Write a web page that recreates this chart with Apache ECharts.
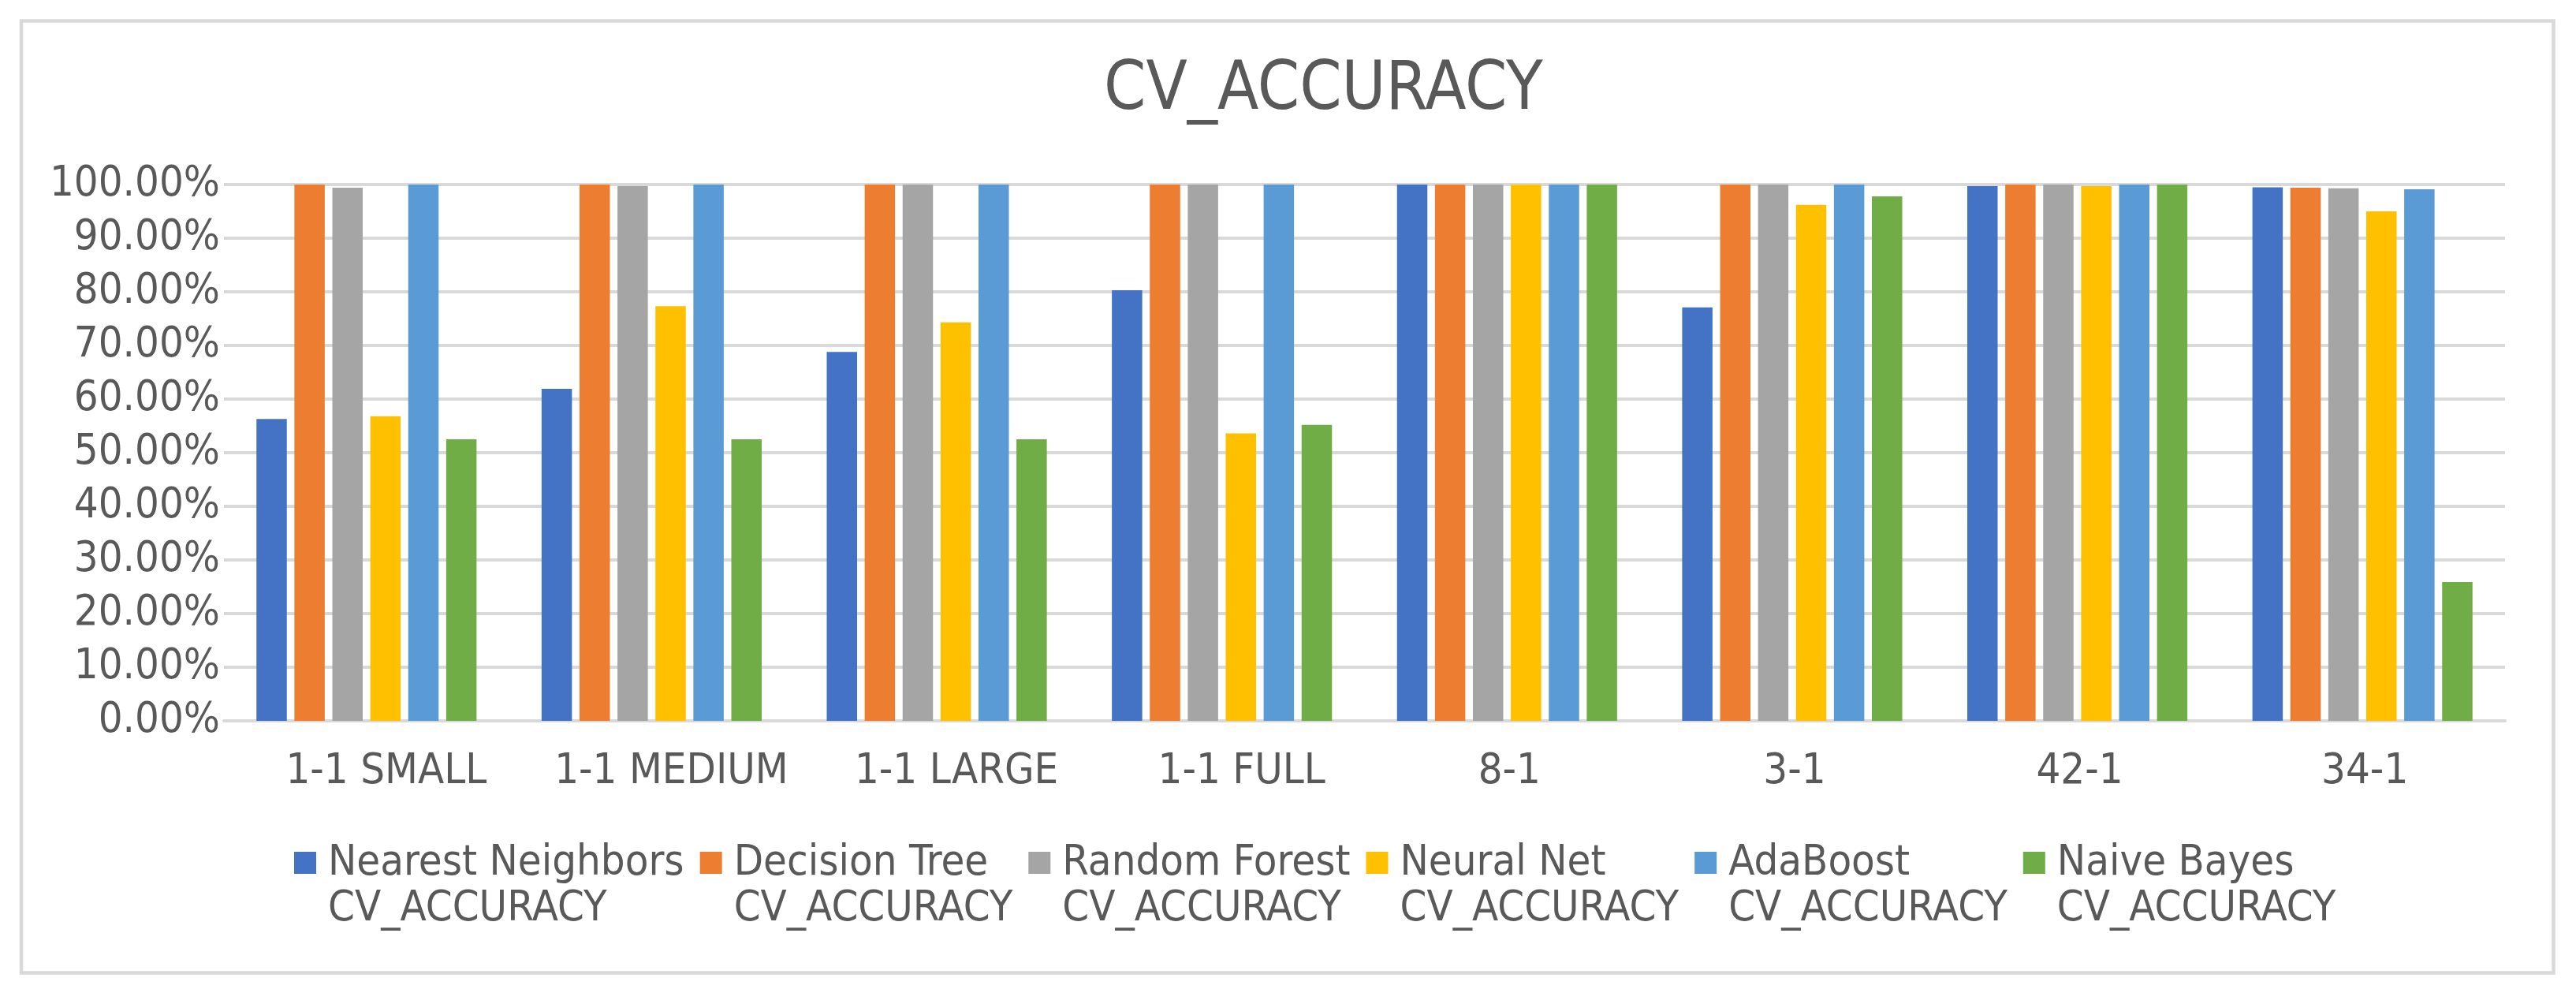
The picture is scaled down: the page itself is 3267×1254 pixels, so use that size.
<!DOCTYPE html>
<html>
<head>
<meta charset="utf-8">
<script src="https://cdn.jsdelivr.net/npm/echarts@6/dist/echarts.min.js"></script>
<style>
html,body{margin:0;padding:0;background:#fff;}
#chart{width:3267px;height:1254px;}
</style>
</head>
<body>
<div id="chart"></div>
<script>
const categories = ['1-1 SMALL', '1-1 MEDIUM', '1-1 LARGE', '1-1 FULL', '8-1', '3-1', '42-1', '34-1'];
const seriesNames = [
  'Nearest Neighbors\nCV_ACCURACY',
  'Decision Tree\nCV_ACCURACY',
  'Random Forest\nCV_ACCURACY',
  'Neural Net\nCV_ACCURACY',
  'AdaBoost\nCV_ACCURACY',
  'Naive Bayes\nCV_ACCURACY'
];
const nearestNeighbors = [56.3, 61.9, 68.8, 80.3, 100, 77.1, 99.7, 99.5];
const decisionTree     = [100, 100, 100, 100, 100, 100, 100, 99.4];
const randomForest     = [99.4, 99.7, 100, 100, 100, 100, 100, 99.3];
const neuralNet        = [56.8, 77.3, 74.3, 53.6, 100, 96.2, 99.7, 95.0];
const adaBoost         = [100, 100, 100, 100, 100, 100, 100, 99.1];
const naiveBayes       = [52.5, 52.5, 52.5, 55.2, 100, 97.8, 100, 25.9];
const yTicks = [0, 10, 20, 30, 40, 50, 60, 70, 80, 90, 100];

const colors = ['#4472C4', '#ED7D31', '#A5A5A5', '#FFC000', '#5B9BD5', '#70AD47'];
const allData = [nearestNeighbors, decisionTree, randomForest, neuralNet, adaBoost, naiveBayes];
const FONT = '"DejaVu Sans Condensed", "DejaVu Sans", sans-serif';
const TXT = '#595959';

const chart = echarts.init(document.getElementById('chart'), null, {renderer: 'canvas'});
const legendIcon = 'path://M0,0L0.01,0M0,14L28,14L28,42L0,42ZM38,116L38.01,116';

chart.setOption({
  animation: false,
  backgroundColor: '#ffffff',
  color: colors,
  title: {
    text: 'CV_ACCURACY',
    left: 1400,
    top: 73,
    padding: 0,
    textStyle: {fontFamily: FONT, fontSize: 85, fontWeight: 'normal', color: TXT}
  },
  graphic: [{
    type: 'rect',
    shape: {x: 27, y: 26.5, width: 3211.5, height: 1207},
    style: {fill: 'none', stroke: '#D9D9D9', lineWidth: 4.5},
    silent: true
  }],
  legend: {
    left: 373,
    top: 1066,
    orient: 'horizontal',
    itemGap: 20,
    itemWidth: 38,
    itemHeight: 116,
    padding: 0,
    selectedMode: false,
    icon: legendIcon,
    textStyle: {fontFamily: FONT, fontSize: 54, lineHeight: 58, color: TXT},
    data: seriesNames
  },
  grid: {left: 284, right: 90, top: 234, bottom: 340},
  xAxis: {
    type: 'category',
    data: categories,
    axisTick: {show: false},
    axisLine: {show: true, lineStyle: {color: '#D9D9D9', width: 4}},
    axisLabel: {
      fontFamily: FONT, fontSize: 54, color: TXT, margin: 38, interval: 0,
      formatter: v => v.indexOf(' ') >= 0 ? '{s|' + v + '}' : '{n|' + v + '}',
      rich: {
        s: {fontFamily: FONT, fontSize: 54, color: TXT, padding: [0, 0, 0, 50]},
        n: {fontFamily: FONT, fontSize: 54, color: TXT, padding: [0, 0, 0, 6]}
      }
    }
  },
  yAxis: {
    type: 'value',
    min: 0,
    max: 100,
    interval: 10,
    axisLine: {show: false},
    axisTick: {show: false},
    splitLine: {lineStyle: {color: '#D9D9D9', width: 4}},
    axisLabel: {
      fontFamily: FONT, fontSize: 54, color: TXT, margin: 5,
      formatter: v => yTicks.includes(v) ? v.toFixed(2) + '%' : ''
    }
  },
  series: seriesNames.map((name, i) => ({
    name: name,
    type: 'bar',
    data: allData[i],
    barWidth: 38.5,
    barGap: '25%',
    itemStyle: {color: colors[i]}
  }))
});
</script>
</body>
</html>
